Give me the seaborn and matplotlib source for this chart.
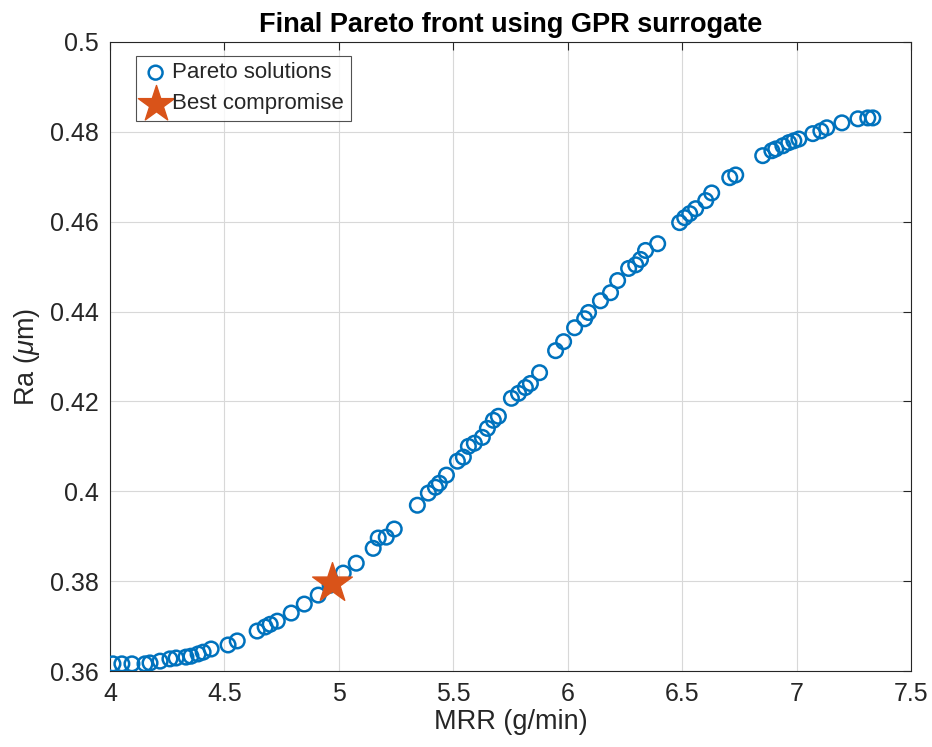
import matplotlib
matplotlib.use("Agg")
import matplotlib.pyplot as plt
import seaborn as sns
import pandas as pd

mrr = [4.013, 4.052, 4.096, 4.153, 4.175, 4.219, 4.262, 4.289, 4.332, 4.354,
       4.385, 4.407, 4.442, 4.516, 4.556, 4.643, 4.678, 4.700, 4.731, 4.792,
       4.849, 4.910, 4.962, 5.019, 5.076, 5.150, 5.172, 5.207, 5.242, 5.343,
       5.391, 5.422, 5.439, 5.470, 5.518, 5.544, 5.566, 5.592, 5.627, 5.649,
       5.675, 5.697, 5.754, 5.785, 5.815, 5.837, 5.877, 5.947, 5.982, 6.030,
       6.074, 6.091, 6.143, 6.187, 6.218, 6.266, 6.297, 6.318, 6.340, 6.393,
       6.489, 6.511, 6.533, 6.559, 6.603, 6.629, 6.708, 6.734, 6.852, 6.892,
       6.909, 6.940, 6.966, 6.988, 7.010, 7.071, 7.106, 7.132, 7.198, 7.268,
       7.311, 7.333]
ra = [0.3616, 0.3616, 0.3616, 0.3616, 0.3618, 0.3622, 0.3627, 0.3629, 0.3631, 0.3633,
      0.3638, 0.3642, 0.3649, 0.3658, 0.3667, 0.3689, 0.3698, 0.3704, 0.3711, 0.3729,
      0.3749, 0.3769, 0.3791, 0.3818, 0.3840, 0.3873, 0.3896, 0.3898, 0.3916, 0.3969,
      0.3996, 0.4009, 0.4018, 0.4036, 0.4067, 0.4076, 0.4100, 0.4107, 0.4120, 0.4140,
      0.4158, 0.4167, 0.4207, 0.4218, 0.4231, 0.4240, 0.4264, 0.4313, 0.4333, 0.4364,
      0.4384, 0.4398, 0.4424, 0.4442, 0.4469, 0.4496, 0.4504, 0.4516, 0.4536, 0.4551,
      0.4598, 0.4609, 0.4618, 0.4629, 0.4647, 0.4664, 0.4698, 0.4704, 0.4747, 0.4758,
      0.4762, 0.4769, 0.4776, 0.4780, 0.4784, 0.4796, 0.4802, 0.4809, 0.4820, 0.4829,
      0.4831, 0.4831]
best_mrr = [4.97]
best_ra = [0.3797]

xticks = [4, 4.5, 5, 5.5, 6, 6.5, 7, 7.5]
xticklabels = ["4", "4.5", "5", "5.5", "6", "6.5", "7", "7.5"]
yticks = [0.36, 0.38, 0.40, 0.42, 0.44, 0.46, 0.48, 0.50]
yticklabels = ["0.36", "0.38", "0.4", "0.42", "0.44", "0.46", "0.48", "0.5"]

sns.set_theme(style="white")
plt.rcParams['font.family'] = ['Liberation Sans', 'DejaVu Sans']
plt.rcParams['mathtext.fontset'] = 'custom'
plt.rcParams['mathtext.it'] = 'Liberation Sans:italic'
plt.rcParams['mathtext.rm'] = 'Liberation Sans'

fig = plt.figure(figsize=(9.32, 7.47), dpi=100)
ax = fig.add_axes([0.118, 0.1017, 0.8595, 0.8421])

df = pd.DataFrame({"MRR": mrr, "Ra": ra})
dfb = pd.DataFrame({"MRR": best_mrr, "Ra": best_ra})

sns.scatterplot(data=df, x="MRR", y="Ra", ax=ax, marker="o", s=110,
                facecolors="none", edgecolor="#0072BD", linewidth=1.8,
                label="Pareto solutions", zorder=3)
sns.scatterplot(data=dfb, x="MRR", y="Ra", ax=ax, marker="*", s=900,
                color="#D95319", edgecolor="#D95319", linewidth=1,
                label="Best compromise", zorder=4)

ax.set_xlim(4, 7.5)
ax.set_ylim(0.36, 0.5)
ax.set_xticks(xticks)
ax.set_xticklabels(xticklabels)
ax.set_yticks(yticks)
ax.set_yticklabels(yticklabels)
ax.grid(True, color="#d8d8d8", linewidth=0.8)
ax.set_axisbelow(True)
for sp in ax.spines.values():
    sp.set_color("#262626")
    sp.set_linewidth(0.8)
ax.tick_params(direction="in", length=6, width=0.8, colors="#262626",
               labelsize=18, top=True, right=True, labelcolor="#262626", pad=8)
ax.set_xlabel("MRR (g/min)", fontsize=19.5, color="#262626", labelpad=2)
ax.set_ylabel(r"Ra ($\mu$m)", fontsize=19.5, color="#262626", labelpad=6)
ax.set_title("Final Pareto front using GPR surrogate", fontsize=19.5,
             fontweight="bold", color="black", pad=7)

leg = ax.legend(loc="upper left", bbox_to_anchor=(0.032, 0.978), fontsize=16,
                frameon=True, fancybox=False, edgecolor="#262626",
                handletextpad=0.15, borderpad=0.3, labelspacing=0.45,
                handlelength=1.2, borderaxespad=0)
leg.get_frame().set_linewidth(0.8)
hs = leg.legend_handles
hs[0].set_sizes([100])
hs[1].set_sizes([750])

fig.savefig("out.png", dpi=100)
